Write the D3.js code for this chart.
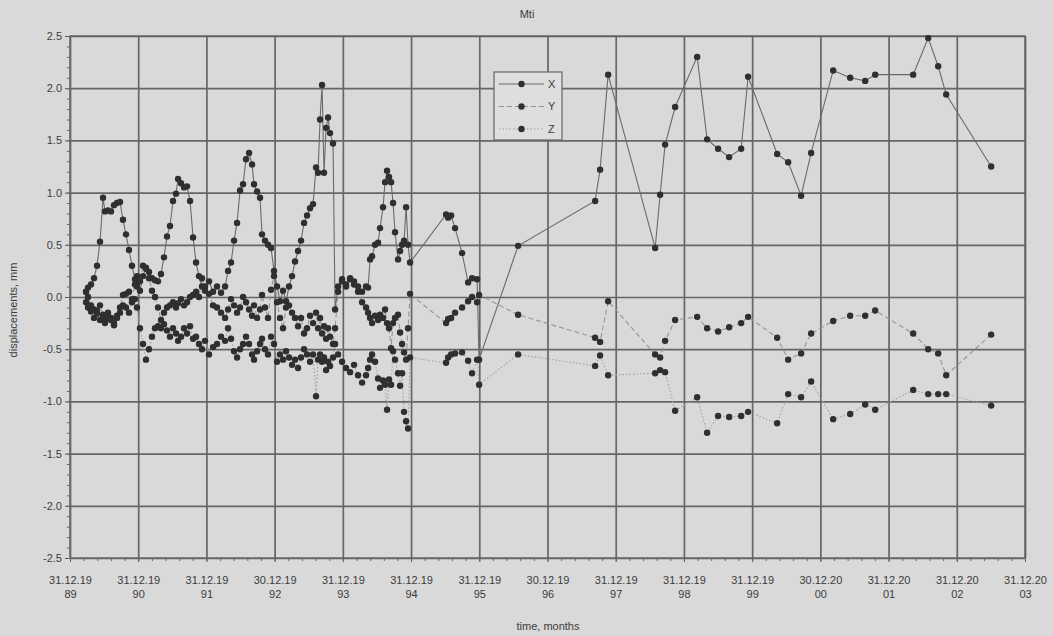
<!DOCTYPE html>
<html>
<head>
<meta charset="utf-8">
<script src="https://cdnjs.cloudflare.com/ajax/libs/d3/7.8.5/d3.min.js"></script>
<style>
body{margin:0;background:#d9d9d9;}
svg{display:block;font-family:"Liberation Sans",Arial,sans-serif;}
</style>
</head>
<body>
<script>
// measurement epochs (decimal years) and displacement components, mm
var dates = [
	1990.235,1990.264,1990.308,1990.352,1990.396,1990.440,1990.484,1990.513,1990.557,1990.601,
	1990.645,1990.689,1990.733,1990.777,1990.821,1990.865,1990.909,1990.953,1990.982,1991.026,
	1991.070,1991.114,1991.158,1991.202,1991.246,1991.290,1991.334,1991.378,1991.422,1991.466,
	1991.510,1991.554,1991.584,1991.628,1991.672,1991.716,1991.760,1991.804,1991.848,1991.891,
	1991.935,1991.979,1992.038,1992.097,1992.155,1992.214,1992.273,1992.317,1992.361,1992.405,
	1992.449,1992.493,1992.537,1992.581,1992.625,1992.669,1992.698,1992.742,1992.786,1992.815,
	1992.859,1992.903,1992.947,1992.991,1993.035,1993.079,1993.123,1993.167,1993.211,1993.255,
	1993.299,1993.343,1993.387,1993.431,1993.475,1993.519,1993.563,1993.607,1993.636,1993.666,
	1993.695,1993.724,1993.754,1993.783,1993.812,1993.856,1993.886,1993.930,1993.988,1994.047,
	1994.106,1994.164,1994.223,1994.282,1994.340,1994.370,1994.399,1994.428,1994.472,1994.516,
	1994.545,1994.589,1994.619,1994.648,1994.677,1994.707,1994.736,1994.765,1994.809,1994.839,
	1994.868,1994.897,1994.927,1994.956,1994.985,1995.513,1995.543,1995.587,1995.645,1995.748,
	1995.836,1995.894,1995.968,1995.997,1996.569,1997.698,1997.771,1997.889,1998.578,1998.651,
	1998.724,1998.871,1999.194,1999.340,1999.501,1999.663,1999.839,1999.941,2000.367,2000.528,
	2000.718,2000.865,2001.188,2001.437,2001.657,2001.804,2002.361,2002.581,2002.727,2002.845,
	2003.504];
var seriesX = [
	0.05,0.09,0.12,0.18,0.30,0.53,0.95,0.82,0.83,0.82,
	0.88,0.90,0.91,0.74,0.60,0.45,0.30,0.17,0.10,0.06,
	0.20,0.28,0.24,0.18,0.16,0.15,0.22,0.38,0.58,0.68,
	0.92,0.99,1.13,1.09,1.05,1.06,0.92,0.57,0.33,0.20,
	0.10,0.06,0.15,0.05,0.10,0.04,0.10,0.25,0.33,0.54,
	0.71,1.02,1.08,1.32,1.38,1.27,1.08,1.01,0.95,0.60,
	0.54,0.50,0.47,0.25,0.10,-0.04,0.06,-0.04,0.10,0.20,
	0.34,0.44,0.54,0.71,0.78,0.85,0.89,1.24,1.19,1.70,
	2.03,1.19,1.62,1.72,1.57,1.47,-0.12,0.10,0.17,0.12,
	0.18,0.15,0.10,0.05,0.10,0.09,0.36,0.39,0.50,0.52,
	0.66,0.86,1.10,1.21,1.15,1.10,0.90,0.62,0.36,0.44,
	0.50,0.54,0.86,0.50,0.33,0.79,0.76,0.78,0.66,0.42,
	0.14,0.18,0.17,-0.60,0.49,0.92,1.22,2.13,0.47,0.98,
	1.46,1.82,2.30,1.51,1.42,1.34,1.42,2.11,1.37,1.29,
	0.97,1.38,2.17,2.10,2.07,2.13,2.13,2.48,2.21,1.94,
	1.25];
var seriesY = [
	0.05,0.00,-0.08,-0.12,-0.13,-0.08,-0.17,-0.20,-0.15,-0.20,
	-0.25,-0.18,-0.10,0.02,0.03,0.05,-0.02,0.12,0.20,0.15,
	0.30,0.27,0.18,0.06,0.00,-0.10,-0.22,-0.15,-0.10,-0.08,
	-0.05,-0.10,-0.06,-0.02,-0.08,-0.05,0.00,0.02,0.05,0.00,
	0.18,0.10,0.03,-0.08,-0.10,-0.15,-0.20,-0.12,-0.02,-0.08,
	-0.15,-0.10,0.00,-0.05,-0.12,-0.18,-0.08,-0.20,-0.12,0.02,
	-0.10,-0.20,0.07,0.20,-0.05,-0.20,-0.30,-0.10,-0.08,-0.15,
	-0.20,-0.28,-0.20,-0.35,-0.30,-0.18,-0.25,-0.15,-0.30,-0.20,
	-0.35,-0.28,-0.40,-0.30,-0.38,-0.45,-0.30,0.05,0.15,0.10,
	0.17,0.12,0.05,-0.05,-0.10,-0.15,-0.20,-0.25,-0.18,-0.22,
	-0.17,-0.20,-0.12,-0.25,-0.30,-0.49,-0.25,-0.20,-0.17,-0.34,
	-0.45,-0.53,-0.60,-0.30,0.03,-0.25,-0.21,-0.20,-0.15,-0.10,
	-0.04,0.00,-0.05,0.02,-0.17,-0.39,-0.43,-0.04,-0.55,-0.58,
	-0.42,-0.22,-0.19,-0.30,-0.33,-0.29,-0.25,-0.19,-0.39,-0.60,
	-0.54,-0.35,-0.23,-0.18,-0.18,-0.13,-0.35,-0.50,-0.54,-0.75,
	-0.36];
var seriesZ = [
	-0.05,-0.10,-0.14,-0.20,-0.16,-0.22,-0.21,-0.25,-0.20,-0.22,
	-0.27,-0.20,-0.15,-0.08,-0.10,-0.15,-0.05,-0.02,-0.10,-0.30,
	-0.45,-0.60,-0.50,-0.38,-0.30,-0.28,-0.30,-0.26,-0.32,-0.38,
	-0.30,-0.35,-0.42,-0.38,-0.30,-0.35,-0.28,-0.40,-0.38,-0.45,
	-0.50,-0.42,-0.55,-0.48,-0.45,-0.38,-0.42,-0.30,-0.40,-0.52,
	-0.58,-0.50,-0.45,-0.38,-0.45,-0.55,-0.60,-0.52,-0.45,-0.40,
	-0.50,-0.55,-0.38,-0.45,-0.62,-0.55,-0.60,-0.52,-0.58,-0.65,
	-0.60,-0.68,-0.58,-0.50,-0.55,-0.62,-0.55,-0.95,-0.60,-0.55,
	-0.62,-0.58,-0.70,-0.62,-0.66,-0.58,-0.45,-0.55,-0.62,-0.68,
	-0.72,-0.65,-0.75,-0.82,-0.75,-0.68,-0.60,-0.55,-0.62,-0.78,
	-0.87,-0.80,-0.84,-1.08,-0.79,-0.84,-0.52,-0.60,-0.73,-0.85,
	-0.73,-1.10,-1.19,-1.26,-0.58,-0.63,-0.58,-0.55,-0.54,-0.53,
	-0.61,-0.73,-0.60,-0.84,-0.55,-0.66,-0.56,-0.75,-0.73,-0.70,
	-0.72,-1.09,-0.96,-1.30,-1.14,-1.15,-1.14,-1.10,-1.21,-0.93,
	-0.96,-0.81,-1.17,-1.12,-1.03,-1.08,-0.89,-0.93,-0.93,-0.93,
	-1.04];
var seriesNames = ['X','Y','Z'];
var yearTicks = [1990,1991,1992,1993,1994,1995,1996,1997,1998,1999,2000,2001,2002,2003,2004];
var tickDays = ['31.12.19','31.12.19','31.12.19','30.12.19','31.12.19','31.12.19','31.12.19','30.12.19',
	'31.12.19','31.12.19','31.12.19','30.12.20','31.12.20','31.12.20','31.12.20'];
var tickYears = ['89','90','91','92','93','94','95','96','97','98','99','00','01','02','03'];
var valueTicks = [-2.5,-2.0,-1.5,-1.0,-0.5,0.0,0.5,1.0,1.5,2.0,2.5];

var width = 1053;
var height = 636;
var plotLeft = 70, plotRight = 1025, plotTop = 36, plotBottom = 558;
var textColor = '#3c3c3c';
var gridColor = '#666';

var canvas = d3.select('body')
				.append('svg')
				.attr('width',width)
				.attr('height',height);
var scaleX = d3.scaleLinear()
				.domain([1990,2004])
				.range([plotLeft,plotRight]);
var scaleY = d3.scaleLinear()
				.domain([-2.5,2.5])
				.range([plotBottom,plotTop]);

// grid
canvas.append('g')
	.attr('transform','translate('+plotLeft+',0)')
	.call(d3.axisLeft(scaleY).tickValues(valueTicks).tickSize(-(plotRight-plotLeft)).tickFormat(''))
	.call(g=>g.select('.domain').remove())
	.selectAll('line')
	.attr('stroke',gridColor)
	.attr('stroke-width',1.7);
canvas.append('g')
	.attr('transform','translate(0,'+plotTop+')')
	.call(d3.axisBottom(scaleX).tickValues(yearTicks).tickSize(plotBottom-plotTop).tickFormat(''))
	.call(g=>g.select('.domain').remove())
	.selectAll('line')
	.attr('stroke',gridColor)
	.attr('stroke-width',1.7);
canvas.append('rect')
	.attr('x',plotLeft)
	.attr('y',plotTop)
	.attr('width',plotRight-plotLeft)
	.attr('height',plotBottom-plotTop)
	.attr('fill','none')
	.attr('stroke','#5a5a5a')
	.attr('stroke-width',1.2);

// axes
var yAxis = canvas.append('g')
				.attr('transform','translate('+plotLeft+',0)')
				.call(d3.axisLeft(scaleY).tickValues(valueTicks).tickSize(5).tickPadding(3).tickFormat(d=>d.toFixed(1)));
yAxis.selectAll('text').attr('fill',textColor).style('font-size','11px');
yAxis.selectAll('line,path').attr('stroke','#555');
var yMinor = canvas.append('g')
				.attr('transform','translate('+plotLeft+',0)')
				.call(d3.axisLeft(scaleY).ticks(50).tickSize(3).tickFormat(''));
yMinor.selectAll('line,path').attr('stroke','#666');

var xAxis = canvas.append('g')
				.attr('transform','translate(0,'+plotBottom+')')
				.call(d3.axisBottom(scaleX).tickValues(yearTicks).tickSize(4).tickPadding(14).tickFormat((d,i)=>tickDays[i]));
xAxis.selectAll('.tick text').attr('fill',textColor).style('font-size','11px');
xAxis.selectAll('.tick')
	.append('text')
	.attr('y',40)
	.attr('fill',textColor)
	.style('font-size','11px')
	.text((d,i)=>tickYears[i]);
xAxis.selectAll('line,path').attr('stroke','#555');
var xMinor = canvas.append('g')
				.attr('transform','translate(0,'+plotBottom+')')
				.call(d3.axisBottom(scaleX).ticks(56).tickSize(3).tickFormat(''));
xMinor.selectAll('line,path').attr('stroke','#666');

// titles
canvas.append('text')
	.attr('x',527)
	.attr('y',18)
	.attr('text-anchor','middle')
	.attr('fill',textColor)
	.style('font-size','11px')
	.text('Mti');
canvas.append('text')
	.attr('transform','translate(17,310) rotate(-90)')
	.attr('text-anchor','middle')
	.attr('fill',textColor)
	.style('font-size','11px')
	.text('displacements, mm');
canvas.append('text')
	.attr('x',548)
	.attr('y',630)
	.attr('text-anchor','middle')
	.attr('fill',textColor)
	.style('font-size','11px')
	.text('time, months');

// series
var styles = [
	{stroke:'#6a6a6a',dash:null},
	{stroke:'#959595',dash:'5,3'},
	{stroke:'#a0a0a0',dash:'1.5,2'}
];
var allSeries = [seriesX,seriesY,seriesZ].map(vals=>dates.map((t,i)=>({t:t,v:vals[i]})));
var line = d3.line()
			.x(d=>scaleX(d.t))
			.y(d=>scaleY(d.v));
var plot = canvas.append('g');
allSeries.slice().reverse().forEach(function(data,k){
	var s = styles[2-k];
	plot.append('path')
		.datum(data)
		.attr('d',line)
		.attr('fill','none')
		.attr('stroke',s.stroke)
		.attr('stroke-width',1.1)
		.attr('stroke-dasharray',s.dash);
});
allSeries.forEach(function(data){
	plot.append('g')
		.selectAll('circle')
		.data(data)
		.enter()
		.append('circle')
		.attr('cx',d=>scaleX(d.t))
		.attr('cy',d=>scaleY(d.v))
		.attr('r',3.2)
		.attr('fill','#2f2f2f');
});

// legend
var legend = canvas.append('g')
				.attr('transform','translate(494,72)');
legend.append('rect')
	.attr('width',68)
	.attr('height',68)
	.attr('fill','#dedede')
	.attr('stroke','#666')
	.attr('stroke-width',1.2);
seriesNames.forEach(function(name,i){
	var y = 12+i*22.5;
	legend.append('line')
		.attr('x1',5)
		.attr('x2',50)
		.attr('y1',y)
		.attr('y2',y)
		.attr('stroke',styles[i].stroke)
		.attr('stroke-dasharray',styles[i].dash);
	legend.append('circle')
		.attr('cx',27.5)
		.attr('cy',y)
		.attr('r',3.2)
		.attr('fill','#2f2f2f');
	legend.append('text')
		.attr('x',54)
		.attr('y',y)
		.attr('dy','0.35em')
		.attr('fill',textColor)
		.style('font-size','11px')
		.text(name);
});
</script>
</body>
</html>
